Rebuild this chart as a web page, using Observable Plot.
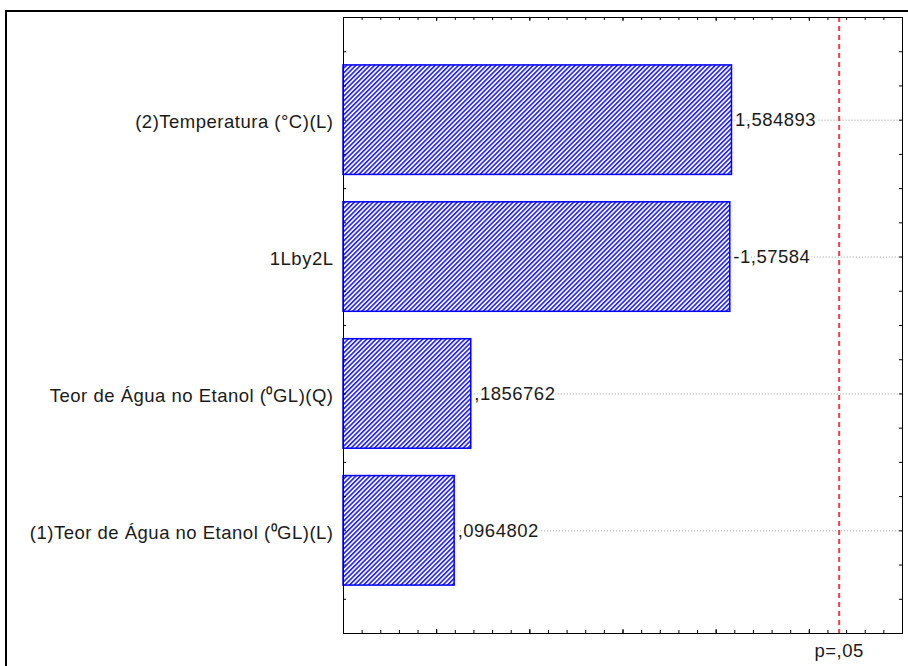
<!DOCTYPE html>
<html>
<head>
<meta charset="utf-8">
<script src="https://cdn.jsdelivr.net/npm/d3@7"></script>
<script src="https://cdn.jsdelivr.net/npm/@observablehq/plot@0.6"></script>
<style>
  html, body { margin: 0; padding: 0; background: #fff; overflow: hidden; width: 908px; height: 666px; }
  #page { position: relative; width: 908px; height: 666px; background: #fff; }
  #chart { position: absolute; left: 0; top: 0; }
  #border { position: absolute; left: 5px; top: 10px; width: 1000px; height: 1000px; border: 2px solid #000; box-sizing: border-box; z-index: 2; pointer-events: none; }
  #chart svg text { letter-spacing: 0.5px; }
</style>
</head>
<body>
<div id="page">
  <div id="chart"></div>
  <div id="border"></div>
</div>
<script>
// Pareto chart of standardized effects
const factors = [
  "(2)Temperatura (°C)(L)",
  "1Lby2L",
  "Teor de Água no Etanol (⁰GL)(Q)",
  "(1)Teor de Água no Etanol (⁰GL)(L)"
];
const effects = [1.584893, -1.57584, 0.1856762, 0.0964802];
const pLevel = 0.05;
const tCritical = 2.16;
const xDomain = [-0.5, 2.5];

// decimal comma, no leading zero
const fmt = v => String(v).replace(".", ",").replace(/^(-?)0,/, "$1,");

const rows = factors.map((f, i) => ({
  factor: f,
  effect: effects[i],
  size: Math.abs(effects[i]),
  label: fmt(effects[i]),
  pos: i + 0.75
}));

const W = 908, H = 666;
const mL = 343, mR = 6, mT = 17, mB = 33;
const frameW = W - mL - mR, frameH = H - mT - mB;

const xMinor = d3.range(0, 31).map(k => xDomain[0] + k * 0.1);
const xMajor = d3.range(0, 7).map(k => xDomain[0] + k * 0.5);
const yMinor = d3.range(0, 19).map(k => k * 0.25);

const chart = Plot.plot({
  width: W,
  height: H,
  marginLeft: mL,
  marginRight: mR,
  marginTop: mT,
  marginBottom: mB,
  style: { fontFamily: "'Liberation Sans', Arial, sans-serif", fontSize: "18.5px", background: "transparent", color: "#1a1a1a" },
  x: { domain: xDomain, axis: null },
  y: { domain: [0, 4.5], reverse: true, axis: null },
  marks: [
    // dotted guide from each bar to the right edge
    Plot.ruleY(rows, { y: "pos", x1: "size", x2: xDomain[1], stroke: "#9a9a9a", strokeWidth: 1, strokeDasharray: "1,2" }),
    // hatched bars
    Plot.rect(rows, {
      x1: xDomain[0], x2: "size",
      y1: d => d.pos - 0.4, y2: d => d.pos + 0.4,
      fill: "url(#hatch)", stroke: "#0000ff", strokeWidth: 1.5
    }),
    // effect values
    Plot.text(rows, {
      x: "size", y: "pos", text: "label", textAnchor: "start", dx: 3,
      fill: "#1a1a1a", stroke: "white", strokeWidth: 5
    }),
    // significance threshold
    Plot.ruleX([tCritical], { x: d => d, stroke: "#ff3b3b", strokeWidth: 2, strokeDasharray: "5,4" }),
    // inward ticks on all four sides
    Plot.tickX(xMinor, { x: d => d, insetBottom: frameH - 3, stroke: "#000" }),
    Plot.tickX(xMajor, { x: d => d, insetBottom: frameH - 4, stroke: "#000" }),
    Plot.tickX(xMinor, { x: d => d, insetTop: frameH - 3, stroke: "#000" }),
    Plot.tickX(xMajor, { x: d => d, insetTop: frameH - 4, stroke: "#000" }),
    Plot.tickY(yMinor, { y: d => d, insetRight: frameW - 3, stroke: "#000" }),
    Plot.tickY(yMinor, { y: d => d, insetLeft: frameW - 3, stroke: "#000" }),
    Plot.frame({ stroke: "#000", strokeWidth: 1 }),
    // factor names
    Plot.text(rows, {
      x: xDomain[0], y: "pos", text: "factor", textAnchor: "end", dx: -10, dy: 2, fill: "#1a1a1a"
    }),
    // threshold label
    Plot.text([tCritical], {
      x: d => d, frameAnchor: "bottom", dy: 23, text: () => "p=" + fmt(pLevel), fill: "#1a1a1a"
    })
  ]
});

// diagonal hatch used by the bars
const defs = d3.select(chart).insert("defs", ":first-child");
const pat = defs.append("pattern")
  .attr("id", "hatch")
  .attr("patternUnits", "userSpaceOnUse")
  .attr("width", 3.3)
  .attr("height", 3.3)
  .attr("patternTransform", "rotate(45)");
pat.append("rect").attr("width", 3.3).attr("height", 3.3).attr("fill", "white");
pat.append("line")
  .attr("x1", 0.85).attr("y1", 0).attr("x2", 0.85).attr("y2", 3.3)
  .attr("stroke", "#2a2aff").attr("stroke-width", 1.7);

document.getElementById("chart").append(chart);
</script>
</body>
</html>
